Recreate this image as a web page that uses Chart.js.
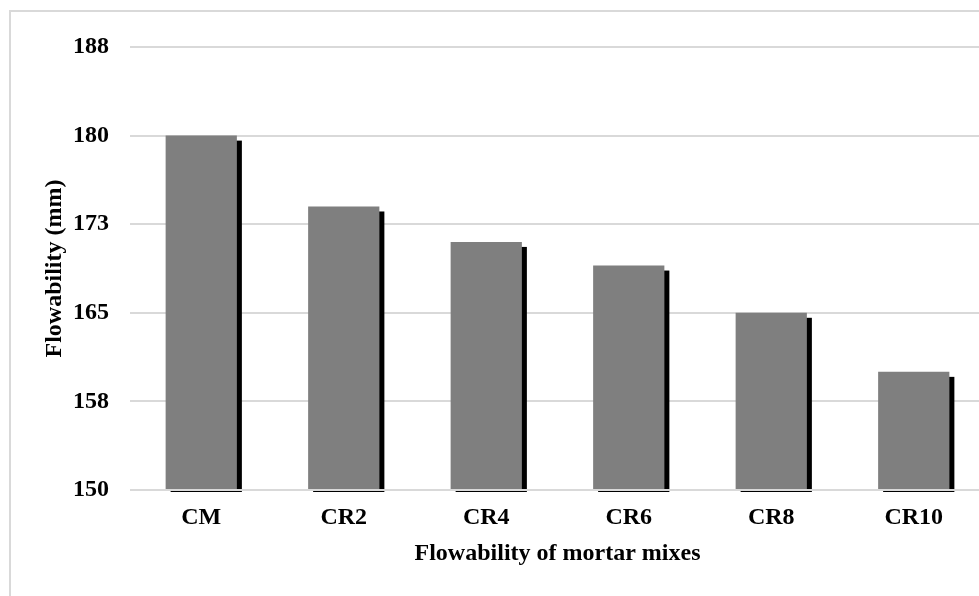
<!DOCTYPE html>
<html>
<head>
<meta charset="utf-8">
<script src="https://cdn.jsdelivr.net/npm/chart.js@4.4.1/dist/chart.umd.min.js"></script>
<style>
  html, body { margin: 0; padding: 0; background: #ffffff; overflow: hidden; width: 979px; height: 596px; }
  #frame { position: absolute; left: 9px; top: 10px; width: 1000px; height: 620px; border: 2px solid #d9d9d9; box-sizing: border-box; }
  #wrap { position: absolute; left: 0; top: 0; width: 1000px; height: 600px; }
</style>
</head>
<body>
<div id="frame"></div>
<div id="wrap"><canvas id="chart" width="1000" height="600"></canvas></div>
<script>
// Mortar mixes and their measured flow (mm)
const categories = ['CM', 'CR2', 'CR4', 'CR6', 'CR8', 'CR10'];
const flowability = [180, 174, 171, 169, 165, 160];
const yTickLabels = ['150', '158', '165', '173', '180', '188'];

const FONT = { family: "'Liberation Serif', 'Times New Roman', serif", size: 24, weight: 'bold' };
const GRID = '#d9d9d9';

// Solid black drop shadow behind each bar, offset right and down
const barShadow = {
  id: 'barShadow',
  beforeDatasetsDraw(chart) {
    const ctx = chart.ctx;
    const meta = chart.getDatasetMeta(0);
    const yScale = chart.scales.y;
    const yb = yScale.getPixelForValue(yScale.min);
    ctx.save();
    ctx.fillStyle = '#000000';
    meta.data.forEach(bar => {
      const x = bar.x, y = bar.y, w = bar.width;
      ctx.fillRect(x - w / 2 + 5, y + 5, w, (yb + 2) - (y + 5));
    });
    ctx.restore();
  },
  afterDatasetsDraw(chart) {
    // baseline gridline sits over the bars' feet
    const ctx = chart.ctx;
    const yScale = chart.scales.y;
    const yb = yScale.getPixelForValue(yScale.min);
    ctx.save();
    ctx.strokeStyle = GRID;
    ctx.lineWidth = 2;
    ctx.beginPath();
    ctx.moveTo(chart.chartArea.left, yb);
    ctx.lineTo(chart.chartArea.right, yb);
    ctx.stroke();
    ctx.restore();
  }
};

new Chart(document.getElementById('chart'), {
  type: 'bar',
  data: {
    labels: categories,
    datasets: [{
      data: flowability,
      backgroundColor: '#7f7f7f',
      borderWidth: 0,
      barPercentage: 0.5,
      categoryPercentage: 1.0
    }]
  },
  options: {
    responsive: false,
    animation: false,
    devicePixelRatio: 1,
    layout: { padding: { left: 0, top: 47, right: 15, bottom: 0 } },
    plugins: { legend: { display: false }, tooltip: { enabled: false } },
    scales: {
      x: {
        grid: { display: false, drawTicks: false },
        border: { display: false },
        ticks: { color: '#000000', font: FONT, padding: 13, maxRotation: 0 },
        title: { display: true, text: 'Flowability of mortar mixes', color: '#000000', font: FONT, padding: { top: 0, bottom: 32 } },
        afterFit(scale) { scale.height = 110; }
      },
      y: {
        min: 150,
        max: 187.5,
        grid: { color: GRID, lineWidth: 2, drawTicks: false },
        border: { display: false },
        ticks: {
          stepSize: 7.5,
          color: '#000000',
          font: FONT,
          padding: 21,
          callback: (value, index) => yTickLabels[index]
        },
        title: { display: true, text: 'Flowability (mm)', color: '#000000', font: FONT, padding: { top: 40, bottom: 0 } },
        afterFit(scale) { scale.width = 130; }
      }
    }
  },
  plugins: [barShadow]
});
</script>
</body>
</html>
